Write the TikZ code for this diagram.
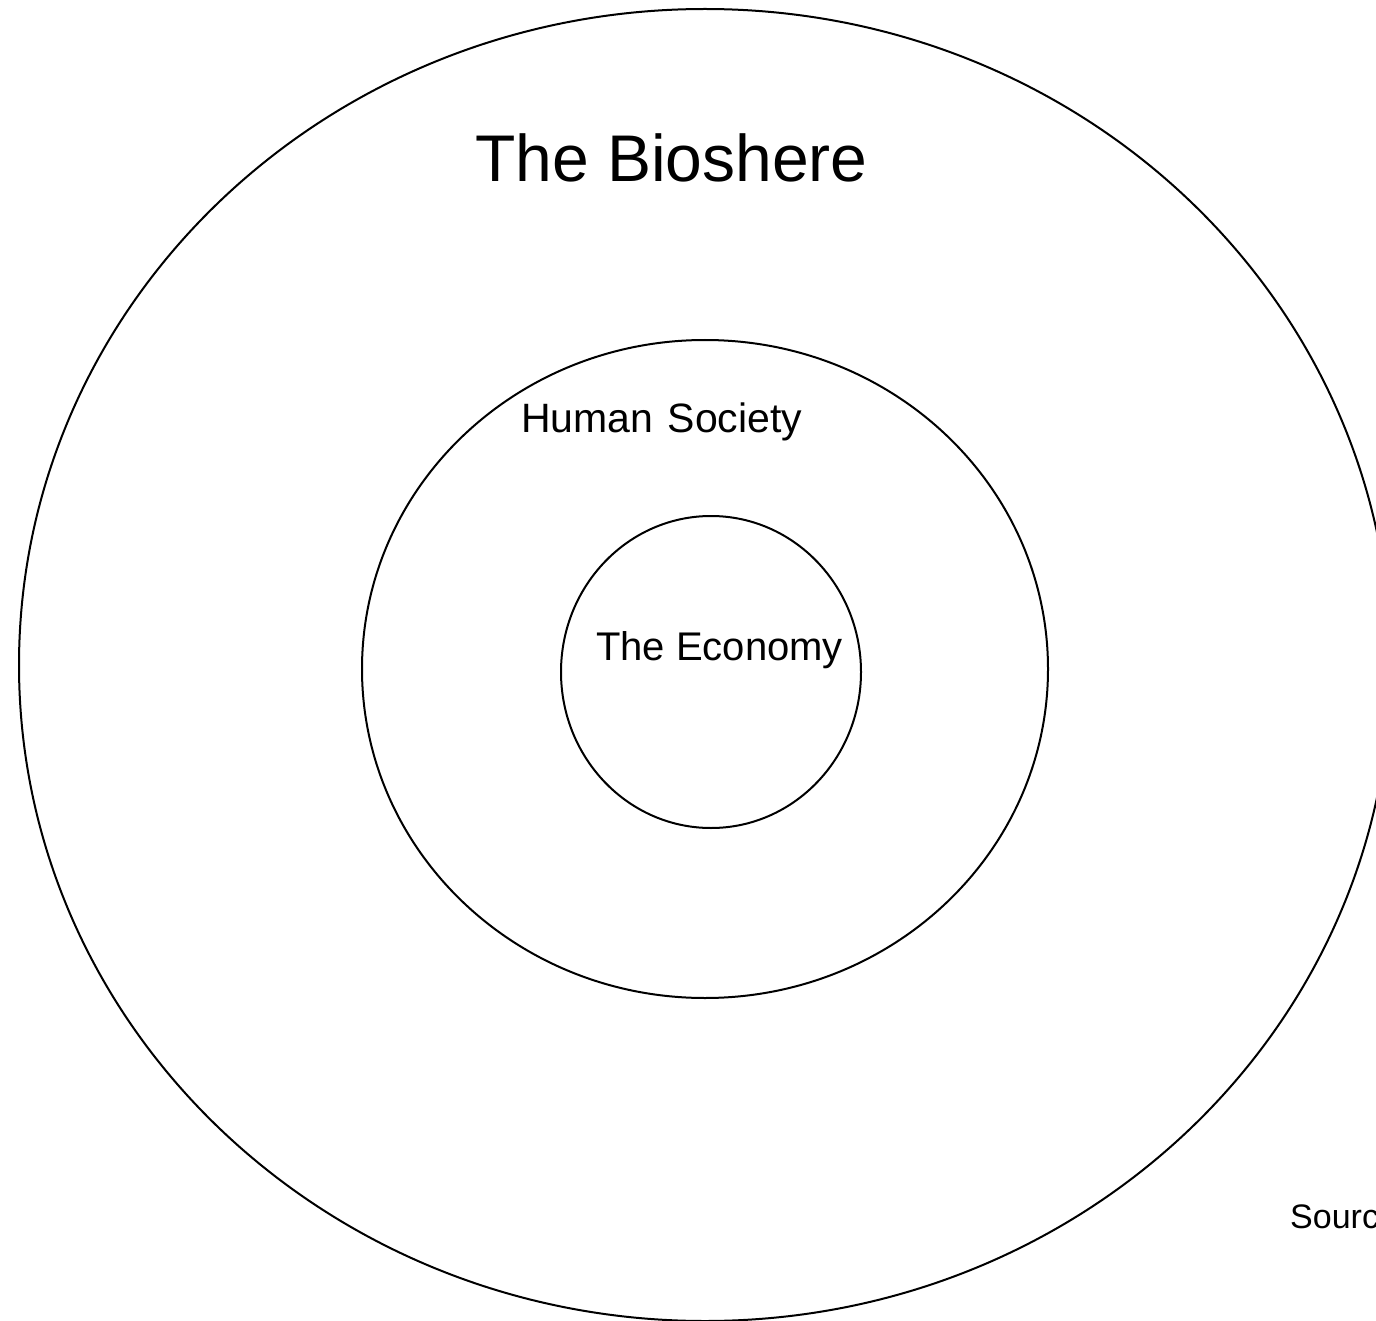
\documentclass[tikz,border=0pt]{standalone}
\usepackage{fontspec}
\setmainfont{Liberation Sans}
\begin{document}
\begin{tikzpicture}[x=1pt,y=-1pt,
  ring/.style={draw=black,line width=2pt},
  lbl/.style={anchor=base west,inner sep=0pt,text=black}]
\useasboundingbox (0,0) rectangle (1376,1321);
\fill[white] (0,0) rectangle (1376,1321);
\begin{scope}
\clip (0,0) rectangle (1376,1321);
\draw[ring] (705,665) ellipse [x radius=686, y radius=656];
\draw[ring] (705,669) ellipse [x radius=343, y radius=329];
\draw[ring] (711,672) ellipse [x radius=150, y radius=156];
\node[lbl,font=\fontsize{66}{70}\selectfont] (bio) at (475,182) {The Bioshere};
\node[lbl,font=\fontsize{41}{45}\selectfont] (soc) at (521,432) {Human\hspace{0.35em}Society};
\node[lbl,font=\fontsize{40}{44}\selectfont] (eco) at (596,660) {The Economy};
\node[lbl,font=\fontsize{34}{38}\selectfont] (src) at (1290,1228) {Sourc};
\end{scope}
\end{tikzpicture}
\end{document}
